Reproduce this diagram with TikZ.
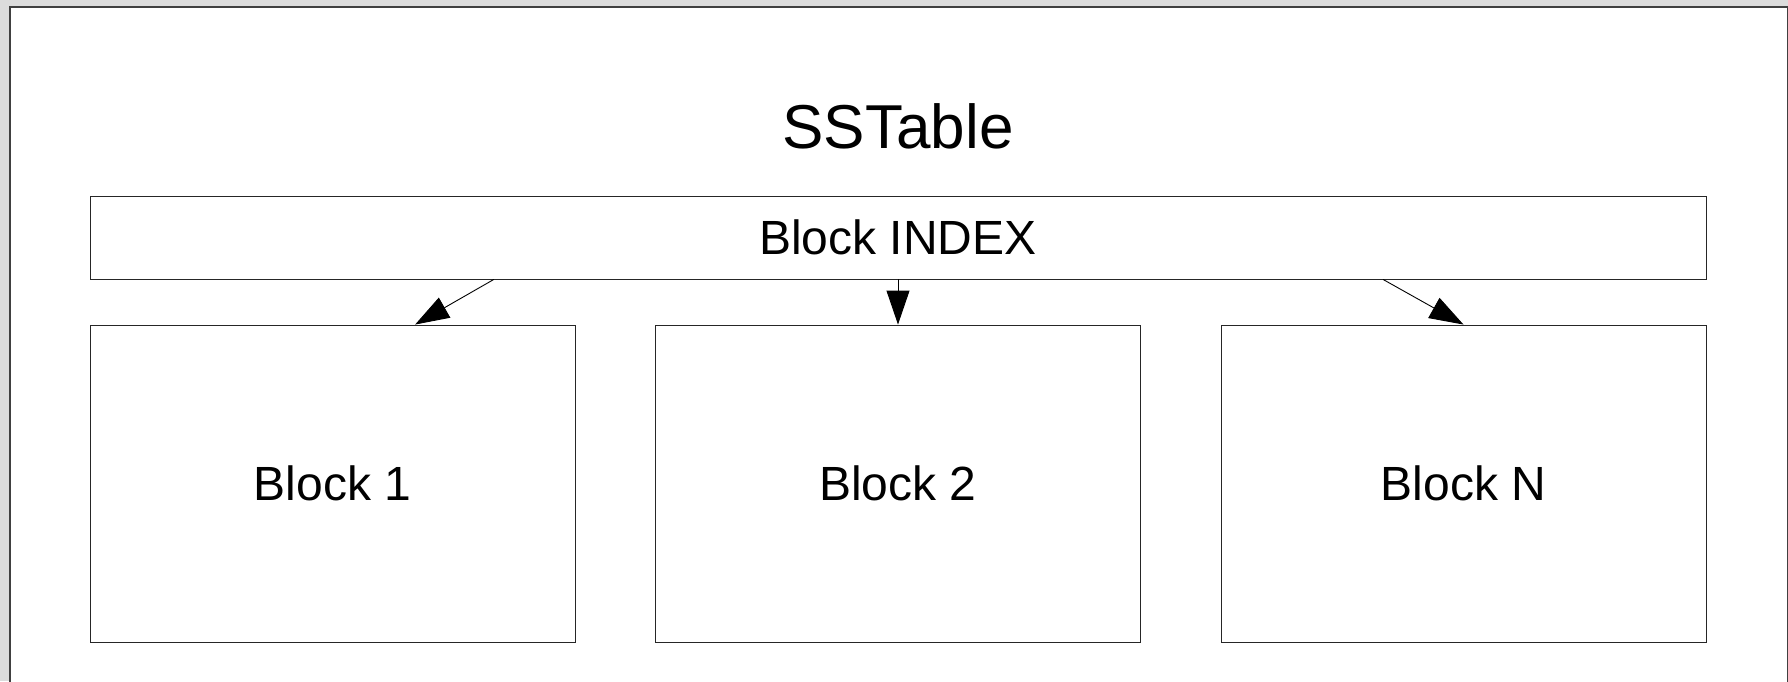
\documentclass[tikz,border=0pt]{standalone}
\usepackage{xcolor}
\usepackage{fontspec}
\setmainfont{Liberation Sans}
\usepackage{tikz}
\usetikzlibrary{arrows.meta,calc}

\definecolor{pagegray}{HTML}{DCDCDC}

\begin{document}
\begin{tikzpicture}[x=1pt,y=-1pt]
\tikzstyle{blockbox}=[rectangle,draw=black!85,line width=0.9pt,inner sep=0pt,font=\fontsize{48}{56}\selectfont];
\tikzstyle{myarrows}=[-{Triangle[length=34pt,width=23pt]},line width=0.9pt];
\useasboundingbox (0,0) rectangle (1788,681);
% page and its frame
\fill[pagegray] (0,0) rectangle (1788,681);
\filldraw[fill=white,draw=black!75,line width=1.5pt] (10,7) rectangle (1787.5,700);
% title and boxes
\node[anchor=base,font=\fontsize{62}{74}\selectfont](title) at (898,148){SSTable};
\node[blockbox,minimum width=1616pt,minimum height=83pt](index) at (898,237.5){Block INDEX};
\node[blockbox,minimum width=485pt,minimum height=317pt](b1) at (332.5,483.5){Block 1};
\node[blockbox,minimum width=485pt,minimum height=317pt](b2) at (898,483.5){Block 2};
\node[blockbox,minimum width=485pt,minimum height=317pt](bn) at (1463.5,483.5){Block N};
% index entries pointing to blocks
\draw [myarrows] ($(index.south west)!0.25!(index.south east)$) -- ($(b1.north west)!0.67!(b1.north east)$);
\draw [myarrows] (index.south) -- (b2.north);
\draw [myarrows] ($(index.south west)!0.8!(index.south east)$) -- (bn.north);
\end{tikzpicture}
\end{document}
